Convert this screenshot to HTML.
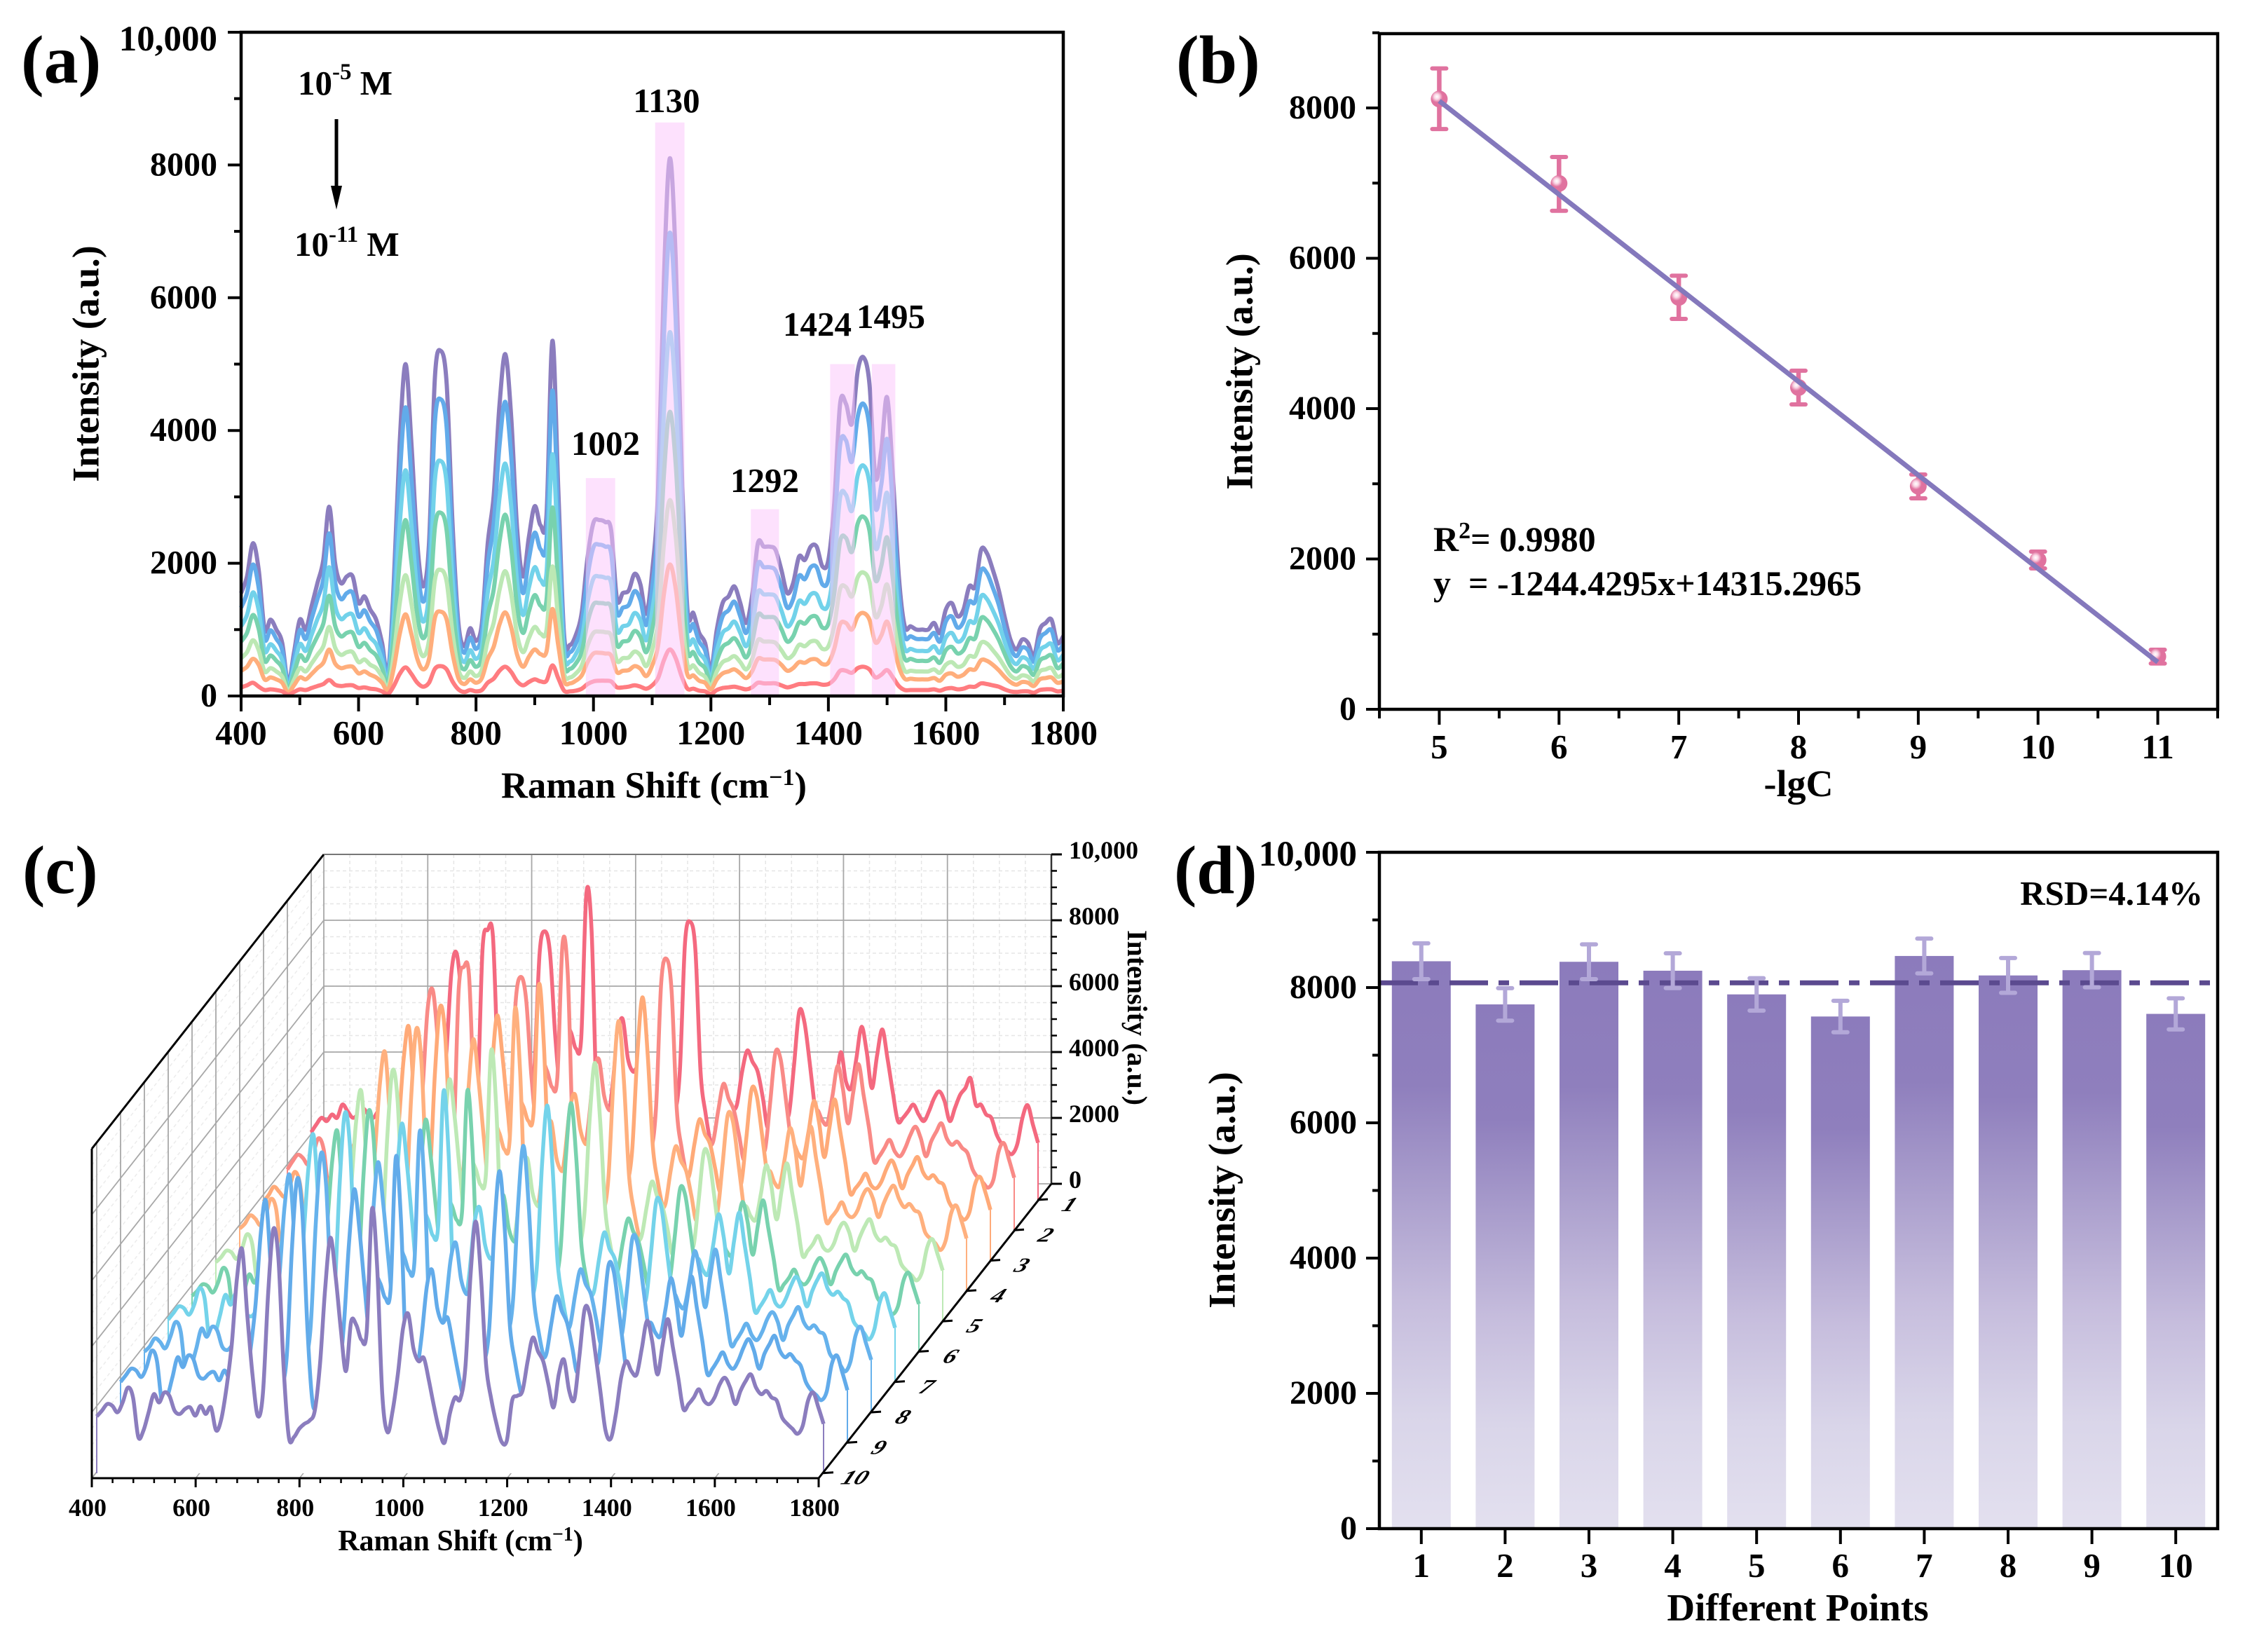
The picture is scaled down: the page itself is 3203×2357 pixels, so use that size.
<!DOCTYPE html>
<html lang="en">
<head>
<meta charset="utf-8">
<title>Raman spectra figure</title>
<style>
html,body{margin:0;padding:0;background:#fff}
svg{display:block}
text{font-family:"Liberation Serif","DejaVu Serif",serif;font-weight:bold;fill:#000}
</style>
</head>
<body>
<svg id="figure" xmlns="http://www.w3.org/2000/svg" width="3203" height="2357" viewBox="0 0 3203 2357">
<defs>
<linearGradient id="barGrad" x1="0" y1="0" x2="0" y2="1">
<stop offset="0" stop-color="#8C7BBC"/><stop offset=".22" stop-color="#8F7FBD"/><stop offset=".4" stop-color="#A99DCC"/><stop offset=".6" stop-color="#C6BDDD"/><stop offset=".8" stop-color="#D9D5E9"/><stop offset="1" stop-color="#E3E0EF"/>
</linearGradient>
<radialGradient id="markerGrad" cx=".36" cy=".36" r=".34">
<stop offset="0" stop-color="#fff"/><stop offset=".45" stop-color="#FAD8E6"/><stop offset="1" stop-color="#E0729F"/>
</radialGradient>
</defs>

<g id="panelA"></g>
<g id="panelB"></g>
<g id="panelC"></g>
<g id="panelD"></g>

<g>
<text x="30" y="118" font-size="98">(a)</text>
<text x="1678" y="118" font-size="98">(b)</text>
<text x="32" y="1274" font-size="97">(c)</text>
<text x="1675" y="1274" font-size="97">(d)</text>
</g>

<g>
<text x="128" y="519" font-size="54" text-anchor="middle" transform="rotate(-90 128 519)" dominant-baseline="middle">Intensity (a.u.)</text>
<text x="933" y="1138" font-size="52.5" text-anchor="middle">Raman Shift (cm<tspan dy="-18" font-size="34">−1</tspan><tspan dy="18">)</tspan></text>
<text x="425" y="135" font-size="49">10<tspan dy="-22" font-size="33">-5</tspan><tspan dy="22"> M</tspan></text>
<text x="420" y="365" font-size="49">10<tspan dy="-20" font-size="33">-11</tspan><tspan dy="20"> M</tspan></text>
<line x1="480" y1="170" x2="480" y2="270" stroke="#000" stroke-width="5"/>
<polygon points="472,265 488,265 480,299" fill="#000"/>
<text x="951" y="160" font-size="49" text-anchor="middle">1130</text>
<text x="864" y="649" font-size="49" text-anchor="middle">1002</text>
<text x="1091" y="702" font-size="49" text-anchor="middle">1292</text>
<text x="1166" y="479" font-size="49" text-anchor="middle">1424</text>
<text x="1271" y="468" font-size="49" text-anchor="middle">1495</text>
</g>

<g>
<text x="1774" y="530" font-size="54" text-anchor="middle" transform="rotate(-90 1774 530)" dominant-baseline="middle">Intensity (a.u.)</text>
<text x="2566" y="1136" font-size="54" text-anchor="middle">-lgC</text>
<text x="2045" y="786" font-size="50">R<tspan dy="-18" font-size="34">2</tspan><tspan dy="18">= 0.9980</tspan></text>
<text x="2045" y="849" font-size="50" xml:space="preserve">y  = -1244.4295x+14315.2965</text>
</g>

<g>
<text x="657" y="2212" font-size="42" text-anchor="middle">Raman Shift (cm<tspan dy="-14" font-size="28">−1</tspan><tspan dy="14">)</tspan></text>
<text x="1618" y="1452" font-size="40" text-anchor="middle" transform="rotate(90 1618 1452)" dominant-baseline="middle">Intensity (a.u.)</text>
</g>

<g>
<text x="1749" y="1698" font-size="54" text-anchor="middle" transform="rotate(-90 1749 1698)" dominant-baseline="middle">Intensity (a.u.)</text>
<text x="2565" y="2312" font-size="55" text-anchor="middle">Different Points</text>
<text x="3143" y="1291" font-size="49" text-anchor="end">RSD=4.14%</text>
</g>
</svg>

<script>
// ---------- Panel (a) data: intensities every 10 cm-1 from 400 to 1800 ----------
const aPurple=[1550,1800,2300,1900,1000,1150,1000,800,200,650,
1150,1000,1350,1700,2050,2850,2000,1700,1800,1800,
1400,1500,1300,1150,800,350,1700,3800,5000,3800,
2300,1650,2300,4800,5200,4700,2600,1100,750,1020,
830,1090,2300,3010,4390,5150,4190,2520,1800,2390,
2860,2570,2720,5350,3140,920,770,920,1260,2090,
2610,2650,2620,2500,1460,1550,1590,1840,1680,1240,
1880,3100,6300,8100,6600,3500,1300,1250,950,800,
400,1000,1400,1500,1650,1400,1100,1500,2300,2250,
2250,2200,1900,1550,1700,2100,2050,2250,2250,1950,
2050,2900,4400,4400,4100,4900,5100,4700,3300,3700,
4500,3300,1800,1050,1050,1000,1000,1000,1100,950,
1300,1400,1200,1300,1650,1650,2200,2150,1900,1600,
1200,850,700,850,800,600,1000,1100,1150,800,
900];
const aBlue=[1330,1550,1980,1630,860,990,860,690,170,560,
990,860,1160,1460,1760,2450,1720,1460,1550,1550,
1200,1290,1120,990,690,300,1460,3270,4350,3270,
1980,1420,1980,4130,4470,4040,2240,950,650,880,
710,940,1980,2590,3780,4430,3600,2170,1550,2060,
2460,2210,2340,4600,2700,790,660,790,1080,1800,
2240,2280,2250,2150,1260,1330,1370,1580,1440,1070,
1620,2670,5420,6980,5680,3010,1120,1080,820,690,
340,860,1200,1290,1420,1200,950,1290,1980,1940,
1940,1890,1630,1330,1460,1810,1760,1940,1940,1680,
1760,2490,3780,3850,3530,4210,4400,4040,2840,3180,
3870,2840,1550,900,900,860,860,860,950,820,
1120,1200,1030,1120,1420,1420,1890,1850,1630,1380,
1030,730,600,730,690,520,860,950,990,690,
780];
const aCyan=[1050,1220,1560,1290,680,780,680,540,140,440,
780,680,920,1160,1390,1940,1360,1160,1220,1220,
950,1020,880,780,540,240,1160,2580,3400,2580,
1560,1120,1560,3260,3540,3200,1770,750,510,690,
560,740,1560,2050,2990,3500,2850,1710,1220,1630,
1940,1750,1850,3640,2140,630,520,630,860,1420,
1770,1800,1780,1700,990,1050,1080,1250,1140,840,
1280,2110,4280,5480,4490,2380,880,850,650,540,
270,680,950,1020,1120,950,750,1020,1560,1530,
1530,1500,1290,1050,1160,1430,1390,1530,1530,1330,
1390,1970,2990,3030,2790,3330,3470,3200,2240,2520,
3060,2240,1220,710,710,680,680,680,750,650,
880,950,820,880,1120,1120,1500,1460,1290,1090,
820,580,480,580,540,410,680,750,780,540,
620];
const aGreen=[820,950,1220,1010,530,610,530,420,110,340,
610,530,720,900,1090,1510,1060,900,950,950,
740,800,690,610,420,190,900,2010,2650,2010,
1220,870,1220,2540,2760,2490,1380,580,400,540,
440,580,1220,1600,2330,2730,2220,1340,950,1270,
1520,1360,1440,2840,1660,490,410,490,670,1110,
1380,1400,1390,1330,770,820,840,980,890,660,
1000,1640,3340,4280,3500,1860,690,660,500,420,
210,530,740,800,870,740,580,800,1220,1190,
1190,1170,1010,820,900,1110,1090,1190,1190,1030,
1090,1540,2330,2380,2170,2600,2700,2490,1750,1960,
2390,1750,950,560,560,530,530,530,580,500,
690,740,640,690,870,870,1170,1140,1010,850,
640,450,370,450,420,320,530,580,610,420,
490];
const aLightGreen=[570,660,840,690,370,420,370,290,80,240,
420,370,490,620,750,1040,730,620,660,660,
510,550,470,420,290,130,620,1390,1820,1390,
840,600,840,1750,1900,1720,950,400,270,370,
300,400,840,1100,1600,1880,1530,920,660,870,
1040,940,990,1950,1150,340,280,340,460,760,
950,970,960,910,530,570,580,670,610,450,
690,1130,2300,2950,2410,1280,470,460,350,290,
150,370,510,550,600,510,400,550,840,820,
820,800,690,570,620,770,750,820,820,710,
750,1060,1610,1640,1500,1790,1860,1720,1200,1350,
1680,1200,660,380,380,370,370,370,400,350,
470,510,440,470,600,600,800,790,690,580,
440,310,260,310,290,220,370,400,420,290,
330];
const aOrange=[380,440,560,470,250,280,250,200,50,160,
280,250,330,420,500,700,490,420,440,440,
340,370,320,280,200,90,420,930,1230,930,
560,400,560,1180,1270,1150,640,270,180,250,
200,270,560,740,1080,1260,1030,620,440,590,
700,630,670,1310,770,230,190,230,310,510,
640,650,640,610,360,380,390,450,410,300,
460,760,1540,1980,1620,860,320,310,230,200,
100,250,340,370,400,340,270,370,560,550,
550,540,470,380,420,510,500,550,550,480,
500,710,1080,1100,1000,1200,1250,1150,810,910,
1120,810,440,260,260,250,250,250,270,230,
320,340,290,320,400,400,540,530,470,390,
290,210,170,210,200,150,250,270,280,200,
220];
const aRed=[130,160,200,140,90,100,90,70,20,60,
100,90,120,150,180,240,170,150,160,160,
120,130,110,100,70,30,150,330,430,330,
200,140,200,410,450,400,220,100,60,90,
70,90,200,260,380,440,360,220,160,210,
250,220,230,460,270,80,70,80,110,180,
220,230,230,220,130,130,140,160,140,110,
160,270,540,700,570,300,110,110,80,70,
30,90,120,130,140,120,100,130,200,190,
190,190,160,130,150,180,180,190,190,170,
180,250,380,380,350,420,440,400,280,320,
390,280,150,90,90,90,90,90,100,80,
110,120,100,110,140,140,190,180,160,140,
100,70,60,70,70,50,90,100,100,70,
80];
const aXStart=400;
const aXStep=10;
const aXTicks=[400,600,800,1000,1200,1400,1600,1800];
const aYTicks=[0,2000,4000,6000,8000,10000];
const aYTickLabels=['0','2000','4000','6000','8000','10,000'];
const aBandStart=[987,1105,1268,1403,1474];
const aBandEnd=[1037,1155,1316,1445,1514];
const aBandTop=[3283,8640,2814,5000,5000];

// ---------- Panel (b) data ----------
const bConc=[5,6,7,8,9,10,11];
const bMean=[8119,6996,5480,4281,2968,1986,702];
const bErrHigh=[8526,7347,5768,4505,3123,2098,793];
const bErrLow=[7719,6632,5193,4056,2807,1874,610];
const bFitX=[5,11];
const bFitY=[8093,627];
const bYTicks=[0,2000,4000,6000,8000];
const bYTickLabels=['0','2000','4000','6000','8000'];

// ---------- Panel (c) data: ten points, intensities every 10 cm-1 ----------
const c01=[2060,2300,2500,2400,2600,2500,2900,2700,2500,2600,
2780,2600,2500,2700,2500,2200,2100,2200,2300,2000,
2300,2100,2200,1500,1900,3000,4400,6900,7500,6000,
3400,2000,2900,7600,8200,8000,3900,1300,1300,1500,
1700,1800,2100,4000,7500,8160,7500,5000,3500,5200,
5100,4600,4900,9300,8200,2900,1400,2200,3400,5000,
5500,4300,3900,4000,3200,2300,1500,1100,2100,2600,
2600,3900,7800,8450,7600,3900,2600,1700,1340,1400,
2500,2700,2900,3900,4540,4200,3900,3100,2200,3400,
4380,2800,2600,4100,5730,5400,4200,2800,1500,1300,
2100,3300,4490,3600,3400,4300,5260,4500,3400,4400,
5180,4300,3300,2400,2500,2700,2900,2600,2400,2700,
3100,3300,3000,2400,2800,3200,3400,3700,2900,2900,
2600,2500,2000,1700,1500,1400,1700,2500,2880,2300,
1740];
const c02=[1850,2100,2300,2200,2000,2350,2800,2450,1200,1450,
2000,2600,2300,2650,2500,2050,1950,2100,2150,1900,
2200,1950,2150,1400,1800,2800,4200,6700,7300,5700,
3200,1900,2700,7300,8000,7700,3700,1200,1200,1450,
1600,1750,2050,3800,7000,7700,7000,4700,3350,5000,
4850,4350,4650,8700,7800,2800,1350,2050,3250,4750,
5200,4100,3650,3800,3000,2150,1400,1000,1950,2500,
2400,3700,7500,8250,7300,3700,2450,1600,1050,1100,
2350,2550,2700,3650,4450,4000,3650,2900,2150,3250,
3700,2700,2450,3900,5400,5200,4000,2700,1400,1150,
1950,3150,3650,3350,3250,4100,5000,4300,3250,4200,
5050,4100,3150,2100,2250,2500,2750,2400,2250,2500,
2900,3150,2800,2250,2700,3000,3250,2800,2600,2700,
2500,2350,1850,1600,1450,1300,1550,2400,2650,2150,
1600];
const c03=[1800,2000,2250,2100,1950,2250,2700,2350,1150,1400,
1950,2500,2250,2550,2450,2000,1850,2050,2050,1850,
2150,1850,2100,1350,1750,2700,4100,6150,7100,5000,
3100,1850,2500,5650,7700,6800,3350,1150,1150,1400,
1550,1700,2000,3450,5850,7450,6250,4600,3250,4800,
4700,4250,4500,8350,6550,2500,1300,2000,3150,4600,
5050,4000,3550,3650,2900,2100,1350,970,1900,2400,
2350,3350,6250,8000,6250,3450,2350,1550,1000,1050,
2300,2450,2600,3550,4300,3850,3550,2800,2100,3150,
3600,2600,2350,3750,5200,5000,3850,2600,1350,1100,
1900,3050,3550,3250,3150,3950,4850,4200,3150,4050,
4900,4000,3050,2050,2200,2400,2650,2300,2200,2400,
2800,3050,2700,2200,2600,2900,3150,2700,2500,2600,
2400,2300,1800,1550,1400,1250,1500,2300,2550,2100,
1550];
const c04=[1900,2050,2300,2200,2000,2300,2800,2500,1200,1400,
2000,2550,2300,2650,2550,2050,1900,2100,2150,1850,
2200,1950,2150,1400,1800,2800,4150,6300,7250,5150,
3250,1900,2550,5800,7950,6950,3400,1150,1200,1450,
1600,1700,2050,3500,6000,7650,6400,4700,3300,4950,
4800,4300,4600,8550,6700,2550,1350,2000,3200,4700,
5150,4050,3650,3750,3000,2150,1400,1000,1950,2450,
2400,3400,6400,8200,6400,3500,2400,1600,1050,1050,
2350,2500,2650,3650,4400,3950,3650,2900,2150,3200,
3700,2650,2400,3850,5350,5150,3950,2650,1400,1100,
1950,3100,3650,3300,3200,4050,4950,4300,3200,4150,
5000,4050,3100,2100,2250,2450,2700,2350,2250,2450,
2900,3100,2800,2250,2650,3000,3200,2800,2550,2650,
2450,2350,1800,1600,1450,1250,1550,2350,2600,2150,
1600];
const c05=[1800,1950,2150,2100,1900,2200,2650,2350,1150,1350,
1900,2450,2200,2500,2400,1950,1850,2000,2050,1800,
2100,1850,2050,1350,1700,2700,4000,6050,7000,4950,
3100,1800,2450,5550,7600,6700,3300,1150,1150,1400,
1550,1650,1950,3400,5750,7350,6200,4550,3200,4750,
4650,4150,4450,8200,6500,2450,1300,1950,3100,4550,
4950,3900,3500,3600,2900,2050,1350,950,1850,2350,
2300,3300,6150,7850,6150,3400,2300,1550,1000,1050,
2250,2400,2600,3500,4250,3800,3500,2800,2050,3100,
3550,2550,2300,3700,5150,4950,3800,2550,1350,1100,
1850,3000,3500,3200,3100,3900,4750,4100,3100,4000,
4800,3900,3000,2000,2150,2350,2600,2250,2150,2350,
2800,3000,2700,2150,2550,2900,3100,2650,2450,2550,
2350,2250,1750,1550,1400,1250,1500,2250,2500,2050,
1550];
const c06=[1700,1850,2050,2000,1800,2100,2550,2250,1050,1250,
1800,2350,2100,2400,2300,1850,1750,1900,1950,1700,
2000,1750,1950,1250,1600,2550,3850,5800,6700,4750,
2950,1700,2350,5300,7300,6400,3150,1050,1050,1300,
1450,1550,1850,3250,5500,7050,5900,4350,3050,4550,
4450,4000,4250,7900,6200,2350,1200,1850,2950,4350,
4750,3750,3350,3450,2750,1950,1250,900,1750,2250,
2200,3150,5900,7550,5900,3250,2200,1450,900,950,
2150,2300,2450,3350,4050,3650,3350,2650,1950,2950,
3400,2450,2200,3550,4950,4750,3650,2450,1250,1000,
1750,2850,3350,3050,2950,3750,4550,3950,2950,3850,
4600,3750,2850,1900,2050,2250,2500,2150,2050,2250,
2650,2850,2550,2050,2450,2750,2950,2550,2350,2450,
2250,2150,1650,1450,1300,1150,1400,2150,2400,1950,
1450];
const c07=[1900,2100,2300,2250,2050,2350,2850,2550,1200,1450,
2050,2650,2350,2700,2600,2100,2000,2150,2200,1950,
2250,2000,2200,1450,1800,2850,4300,6500,7500,5300,
3300,1950,2650,5950,8150,7150,3500,1200,1200,1500,
1650,1750,2100,3650,6150,7850,6600,4850,3400,5050,
4950,4450,4750,8800,6950,2650,1400,2100,3300,4850,
5300,4200,3750,3850,3100,2200,1450,1000,2000,2550,
2500,3500,6600,8400,6600,3650,2500,1650,1050,1100,
2400,2600,2750,3750,4550,4050,3750,3000,2200,3300,
3800,2750,2500,3950,5500,5300,4050,2750,1450,1150,
2000,3200,3750,3400,3300,4200,5100,4400,3300,4300,
5150,4200,3200,2150,2300,2550,2800,2400,2300,2550,
2950,3200,2850,2300,2750,3100,3300,2850,2650,2750,
2550,2400,1850,1650,1500,1300,1600,2400,2700,2200,
1650];
const c08=[1850,2000,2250,2150,1950,2300,2750,2450,1150,1400,
1950,2550,2300,2600,2500,2000,1900,2050,2100,1850,
2150,1900,2100,1400,1750,2750,4150,6250,7200,5100,
3200,1850,2550,5700,7850,6900,3400,1150,1150,1450,
1600,1700,2000,3500,5950,7600,6350,4650,3300,4900,
4750,4300,4550,8500,6700,2550,1300,2000,3200,4650,
5150,4050,3600,3700,2950,2100,1400,1000,1900,2450,
2400,3400,6350,8100,6350,3500,2400,1600,1000,1050,
2350,2500,2650,3600,4350,3900,3600,2850,2100,3200,
3650,2650,2400,3800,5300,5100,3900,2650,1400,1100,
1900,3050,3600,3300,3200,4000,4900,4250,3200,4150,
4950,4050,3050,2050,2200,2450,2700,2350,2200,2450,
2850,3050,2750,2200,2650,2950,3200,2750,2550,2650,
2450,2350,1800,1600,1450,1250,1550,2350,2600,2100,
1600];
const c09=[1850,2050,2250,2200,2000,2300,2800,2500,1200,1400,
2000,2600,2300,2650,2550,2050,1950,2100,2150,1900,
2200,1950,2150,1400,1800,2800,4200,6350,7350,5200,
3250,1900,2600,5850,8000,7000,3450,1200,1200,1450,
1600,1750,2050,3550,6050,7700,6500,4750,3350,4950,
4850,4400,4650,8650,6800,2600,1350,2050,3250,4750,
5250,4100,3650,3800,3000,2150,1400,1000,1950,2500,
2450,3450,6500,8250,6500,3550,2450,1600,1050,1100,
2400,2550,2700,3650,4450,4000,3650,2900,2150,3250,
3750,2700,2450,3900,5400,5200,4000,2700,1400,1150,
1950,3150,3650,3350,3250,4100,5000,4300,3250,4200,
5050,4100,3150,2100,2250,2500,2750,2400,2250,2500,
2900,3150,2800,2250,2700,3000,3250,2800,2600,2700,
2500,2350,1850,1600,1450,1300,1550,2400,2650,2150,
1600];
const c10=[1725,1900,2100,2050,1850,2150,2600,2300,1100,1300,
1850,2400,2150,2450,2350,1900,1800,1950,2000,1750,
2050,1800,2000,1300,1650,2600,3900,5900,6800,4800,
3000,1750,2400,5400,7400,6500,3200,1100,1100,1350,
1500,1600,1900,3300,5600,7150,6000,4400,3100,4600,
4500,4050,4300,8000,6300,2400,1250,1900,3000,4400,
4840,3800,3400,3500,2800,2000,1300,930,1800,2300,
2250,3200,6000,7640,6000,3300,2250,1500,950,1000,
2200,2350,2500,3400,4120,3700,3400,2700,2000,3000,
3450,2500,2250,3600,5000,4800,3700,2500,1300,1050,
1800,2900,3400,3100,3000,3800,4630,4000,3000,3900,
4680,3800,2900,1950,2100,2300,2550,2200,2100,2300,
2700,2900,2600,2100,2500,2800,3000,2600,2400,2500,
2300,2200,1700,1500,1350,1200,1450,2200,2450,2000,
1500];
const cXTicks=[400,600,800,1000,1200,1400,1600,1800];
const cZTicks=[0,2000,4000,6000,8000,10000];
const cZTickLabels=['0','2000','4000','6000','8000','10,000'];
const cPointLabels=['1','2','3','4','5','6','7','8','9','10'];

// ---------- Panel (d) data ----------
const dPoints=[1,2,3,4,5,6,7,8,9,10];
const dValues=[8389,7751,8381,8249,7899,7572,8467,8179,8257,7611];
const dErrors=[265,240,257,257,240,233,257,257,253,230];
const dMeanLine=[8070];
const dYTicks=[0,2000,4000,6000,8000,10000];
const dYTickLabels=['0','2000','4000','6000','8000','10,000'];

const NS='http://www.w3.org/2000/svg';
function add(parent,tag,attrs,name){
  const el=document.createElementNS(NS,tag);
  for(const k in attrs)el.setAttribute(k,attrs[k]);
  
  
  parent.appendChild(el);
  return el;
}
function line(p,x1,y1,x2,y2,stroke,w,name,extra){
  return add(p,'line',Object.assign({x1,y1,x2,y2,stroke,'stroke-width':w},extra||{}),name);
}
function label(p,x,y,str,size,anchor,name,extra){
  const t=add(p,'text',Object.assign({x,y,'font-size':size,'text-anchor':anchor},extra||{}),name);
  t.textContent=str;
  return t;
}
function smooth(pts){
  let d='M'+pts[0][0].toFixed(1)+' '+pts[0][1].toFixed(1);
  for(let i=0;i<pts.length-1;i++){
    const p0=pts[i-1]||pts[i],p1=pts[i],p2=pts[i+1],p3=pts[i+2]||p2;
    const c1x=p1[0]+(p2[0]-p0[0])/6,c1y=p1[1]+(p2[1]-p0[1])/6;
    const c2x=p2[0]-(p3[0]-p1[0])/6,c2y=p2[1]-(p3[1]-p1[1])/6;
    d+='C'+c1x.toFixed(1)+' '+c1y.toFixed(1)+' '+c2x.toFixed(1)+' '+c2y.toFixed(1)+' '+p2[0].toFixed(1)+' '+p2[1].toFixed(1);
  }
  return d;
}
function frame(p,l,t,r,b,name){
  add(p,'rect',{x:l,y:t,width:r-l,height:b-t,fill:'none',stroke:'#000','stroke-width':4.5},name);
}

// ===== Panel A =====
(function(){
  const g=document.getElementById('panelA');
  const L=344,R=1517,T=46,B=993;
  const xA=v=>L+(v-400)/1400*(R-L);
  const yA=v=>B-v/10000*(B-T);
  const sets=[[aPurple,'#8B7DBE','purple'],[aBlue,'#62ABEA','blue'],[aCyan,'#72D2EA','cyan'],[aGreen,'#78D2AE','green'],[aLightGreen,'#BCE8B4','light-green'],[aOrange,'#FFAE7C','orange'],[aRed,'#FF7C80','red']];
  sets.forEach(s=>{
    const pts=s[0].map((v,i)=>[xA(aXStart+i*aXStep),yA(v)]);
    add(g,'path',{d:smooth(pts),fill:'none',stroke:s[1],'stroke-width':6,'stroke-linejoin':'round'},'spectrum-'+s[2]);
  });
  aBandStart.forEach((s,i)=>{
    add(g,'rect',{x:xA(s),y:yA(aBandTop[i]),width:xA(aBandEnd[i])-xA(s),height:yA(0)-yA(aBandTop[i]),fill:'#FBC8FB',opacity:.55},'peak-band');
  });
  frame(g,L,T,R,B,'a-plot-frame');
  aXTicks.forEach(v=>{
    line(g,xA(v),B,xA(v),B+22,'#000',4,'a-x-major-tick');
    label(g,xA(v),1062,String(v),49,'middle','a-x-tick-label');
  });
  aXTicks.slice(0,-1).forEach(v=>{
    line(g,xA(v+100),B,xA(v+100),B+13,'#000',4,'a-x-minor-tick');
  });
  aYTicks.forEach((v,i)=>{
    line(g,L-19,yA(v),L,yA(v),'#000',4,'a-y-major-tick');
    if(v===10000){
      label(g,310,72,aYTickLabels[i],51,'end','a-y-tick-label');
    }else{
      label(g,310,yA(v)+15,aYTickLabels[i],48,'end','a-y-tick-label');
    }
  });
  aYTicks.slice(0,-1).forEach(v=>{
    line(g,L-10,yA(v+1000),L,yA(v+1000),'#000',4,'a-y-minor-tick');
  });
})();

// ===== Panel B =====
(function(){
  const g=document.getElementById('panelB');
  const L=1968,R=3164,T=48,B=1012;
  const xB=v=>L+(v-4.5)/7*(R-L);
  const yB=v=>B-v/8000*858;
  frame(g,L,T,R,B,'b-plot-frame');
  bConc.forEach((c,i)=>{
    line(g,xB(c),yB(bErrLow[i]),xB(c),yB(bErrHigh[i]),'#E0729F',6.5,'error-bar');
    line(g,xB(c)-10,yB(bErrHigh[i]),xB(c)+10,yB(bErrHigh[i]),'#E0729F',6,'error-cap-high',{'stroke-linecap':'round'});
    line(g,xB(c)-10,yB(bErrLow[i]),xB(c)+10,yB(bErrLow[i]),'#E0729F',6,'error-cap-low',{'stroke-linecap':'round'});
  });
  bConc.forEach((c,i)=>{
    add(g,'circle',{cx:xB(c),cy:yB(bMean[i]),r:12,fill:'url(#markerGrad)'},'data-point');
  });
  line(g,xB(bFitX[0]),yB(bFitY[0]),xB(bFitX[1]),yB(bFitY[1]),'#8478BC',7,'regression-line');
  bConc.forEach(c=>{
    line(g,xB(c),B,xB(c),B+22,'#000',4,'b-x-major-tick');
    label(g,xB(c),1082,String(c),49,'middle','b-x-tick-label');
    line(g,xB(c)-85.4,B,xB(c)-85.4,B+13,'#000',4,'b-x-minor-tick');
  });
  line(g,R,B,R,B+13,'#000',4,'b-x-minor-tick');
  bYTicks.forEach((v,i)=>{
    line(g,L-19,yB(v),L,yB(v),'#000',4,'b-y-major-tick');
    label(g,1935,yB(v)+15,bYTickLabels[i],48,'end','b-y-tick-label');
    line(g,L-10,yB(v+1000),L,yB(v+1000),'#000',4,'b-y-minor-tick');
  });
})();

// ===== Panel C =====
(function(){
  const g=document.getElementById('panelC');
  const FL=131,FR=1168,FY=2109,BL=462,BR=1500,BY=1689,TY=1219;
  const zk=470/10000;
  const xC=(v,k)=>FL+7+(10-k)*34+(v-400)/1400*(FR-FL);
  const yC=(v,k)=>2102-(10-k)*43.3-v*zk;
  // back wall minor grid
  for(let v=400;v<=1800;v+=50){
    const x=BL+(v-400)/1400*(BR-BL);
    line(g,x,TY,x,BY,'#e6e6e6',1.5,'back-wall-minor-gridline',{'stroke-dasharray':'5 4'});
  }
  for(let v=0;v<=10000;v+=500){
    line(g,BL,BY-v*zk,BR,BY-v*zk,'#e6e6e6',1.5,'back-wall-minor-gridline',{'stroke-dasharray':'5 4'});
  }
  // left wall minor grid
  for(let v=500;v<10000;v+=500){
    line(g,FL,FY-v*zk,BL,BY-v*zk,'#ececec',1.5,'left-wall-minor-gridline',{'stroke-dasharray':'5 4'});
  }
  // back wall major grid
  cXTicks.forEach(v=>{
    const x=BL+(v-400)/1400*(BR-BL);
    line(g,x,TY,x,BY,'#a8a8a8',1.8,'back-wall-gridline');
  });
  cZTicks.forEach(v=>{
    line(g,BL,BY-v*zk,BR,BY-v*zk,'#a8a8a8',1.8,'back-wall-gridline');
  });
  // left wall major grid
  cZTicks.forEach(v=>{
    line(g,FL,FY-v*zk,BL,BY-v*zk,'#a8a8a8',1.8,'left-wall-gridline');
  });
  cPointLabels.forEach((l,i)=>{
    const xx=FL+7+(9-i)*34;
    const fy=FY-(xx-FL)*(FY-BY)/(BL-FL);
    line(g,xx,fy,xx,fy-470,'#a8a8a8',1.8,'left-wall-gridline');
  });
  // floor grid
  cXTicks.forEach(v=>{
    const x=FL+(v-400)/1400*(FR-FL);
    line(g,x,FY,x+(BL-FL),BY,'#a8a8a8',1.5,'floor-gridline');
  });
  // spectra, back to front
  const series=[c01,c02,c03,c04,c05,c06,c07,c08,c09,c10];
  const colors=['#F4697F','#F98A86','#FFAA78','#FFB07E','#BDE9B5','#78D2AE','#74D3EA','#66B2EC','#62ABEA','#8B7DBE'];
  series.forEach((arr,i)=>{
    const k=i+1;
    const grp=add(g,'g',{},'spectrum-point-'+k);
    const pts=arr.map((v,j)=>[xC(aXStart+j*aXStep,k),yC(v,k)]);
    const d=smooth(pts);
    const x0=xC(400,k),x1=xC(1800,k),by=yC(0,k);
    add(grp,'path',{d:d+'L'+x1+' '+by+'L'+x0+' '+by+'Z',fill:'#fff',stroke:'none'},'spectrum-fill');
    line(grp,x0,pts[0][1],x0,by,colors[i],2,'spectrum-drop-left');
    line(grp,x1,pts[pts.length-1][1],x1,by,colors[i],2,'spectrum-drop-right');
    add(grp,'path',{d:d,fill:'none',stroke:colors[i],'stroke-width':5.5,'stroke-linejoin':'round'},'spectrum-line');
  });
  // box edges
  line(g,FL,FY,FL,FY-470,'#000',3,'left-wall-front-edge');
  line(g,FL,FY-470,BL,TY,'#000',3,'left-wall-top-edge');
  line(g,BL,TY,BR,TY,'#777',2,'back-wall-top-edge');
  line(g,FL,FY,FR,FY,'#000',3,'c-x-axis');
  line(g,FR,FY,BR,BY,'#000',3,'c-depth-axis');
  line(g,BR,TY,BR,BY,'#333',2.5,'c-z-axis');
  // x ticks
  cXTicks.forEach(v=>{
    const x=FL+(v-400)/1400*(FR-FL);
    line(g,x,FY,x,FY+13,'#000',3,'c-x-major-tick');
    label(g,x-6,2163,String(v),36,'middle','c-x-tick-label');
  });
  for(let v=440;v<1800;v+=40){
    if((v-400)%200===0)continue;
    const x=FL+(v-400)/1400*(FR-FL);
    line(g,x,FY,x,FY+7,'#000',2.5,'c-x-minor-tick');
  }
  // z ticks
  cZTicks.forEach((v,i)=>{
    line(g,BR,BY-v*zk,BR+15,BY-v*zk,'#000',3,'c-z-major-tick');
    label(g,1525,BY-v*zk+6,cZTickLabels[i],36,'start','c-z-tick-label');
  });
  for(let v=500;v<10000;v+=500){
    if(v%2000===0)continue;
    line(g,BR,BY-v*zk,BR+8,BY-v*zk,'#000',2.5,'c-z-minor-tick');
  }
  // depth ticks and labels
  cPointLabels.forEach((l,i)=>{
    const tx=1480-i*34;
    const ty=1712+i*43.3;
    line(g,tx,ty,tx+15,ty-1,'#000',3,'c-depth-tick');
    const lx=1522-i*34,ly=1718+i*43.3;
    label(g,0,0,l,36,'middle','c-depth-label',{transform:'translate('+lx+' '+(ly+10)+') skewX(-25) scale(1 .8)','font-style':'italic'});
  });
})();

// ===== Panel D =====
(function(){
  const g=document.getElementById('panelD');
  const L=1968,R=3164,T=1216,B=2181;
  const xD=v=>L+(v-0.5)/10*(R-L);
  const yD=v=>B-v/10000*(B-T);
  const bw=84;
  dPoints.forEach((p,i)=>{
    add(g,'rect',{x:xD(p)-bw/2,y:yD(dValues[i]),width:bw,height:B-yD(dValues[i]),fill:'url(#barGrad)'},'bar-'+p);
  });
  line(g,L,yD(dMeanLine[0]),R,yD(dMeanLine[0]),'#5B4A8F',7,'mean-line',{'stroke-dasharray':'55 15 15 15'});
  dPoints.forEach((p,i)=>{
    const hi=dValues[i]+dErrors[i],lo=dValues[i]-dErrors[i];
    line(g,xD(p),yD(lo),xD(p),yD(hi),'#B3A8D8',6,'d-error-bar');
    line(g,xD(p)-10,yD(hi),xD(p)+10,yD(hi),'#B3A8D8',6,'d-error-cap-high',{'stroke-linecap':'round'});
    line(g,xD(p)-10,yD(lo),xD(p)+10,yD(lo),'#B3A8D8',6,'d-error-cap-low',{'stroke-linecap':'round'});
  });
  frame(g,L,T,R,B,'d-plot-frame');
  dPoints.forEach(p=>{
    line(g,xD(p),B,xD(p),B+22,'#000',4,'d-x-tick');
    label(g,xD(p),2250,String(p),49,'middle','d-x-tick-label');
  });
  dYTicks.forEach((v,i)=>{
    line(g,L-19,yD(v),L,yD(v),'#000',4,'d-y-major-tick');
    if(v===10000){
      label(g,1936,1235,dYTickLabels[i],51,'end','d-y-tick-label');
    }else{
      label(g,1936,yD(v)+15,dYTickLabels[i],48,'end','d-y-tick-label');
    }
  });
  dYTicks.slice(0,-1).forEach(v=>{
    line(g,L-10,yD(v+1000),L,yD(v+1000),'#000',4,'d-y-minor-tick');
  });
})();
</script>
</body>
</html>
